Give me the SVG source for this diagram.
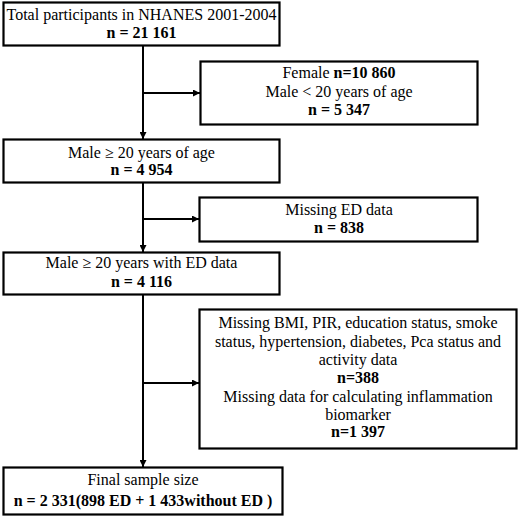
<svg xmlns="http://www.w3.org/2000/svg" width="520" height="517" viewBox="0 0 520 517">
<style>
.box{fill:#fff;stroke:#000;stroke-width:2.2}
.ln{stroke:#000;stroke-width:2;fill:none}
</style>
<defs>
<marker id="ah" viewBox="0 0 10 10" refX="10" refY="5" markerWidth="9" markerHeight="7" markerUnits="userSpaceOnUse" orient="auto">
<path d="M0,0 L10,5 L0,10 z" fill="#000"/>
</marker>
</defs>
<rect width="520" height="517" fill="#fff"/>
<g id="connectors">
<line class="ln" x1="143" y1="46" x2="143" y2="139" marker-end="url(#ah)"/>
<line class="ln" x1="143" y1="93" x2="200" y2="93" marker-end="url(#ah)"/>
<line class="ln" x1="143" y1="183" x2="143" y2="252" marker-end="url(#ah)"/>
<line class="ln" x1="143" y1="219" x2="199" y2="219" marker-end="url(#ah)"/>
<line class="ln" x1="143" y1="294" x2="143" y2="467" marker-end="url(#ah)"/>
<line class="ln" x1="143" y1="383" x2="199" y2="383" marker-end="url(#ah)"/>
</g>
<g id="n1">
<rect class="box" x="3.5" y="2.5" width="276" height="43"/>
<text font-family="Liberation Serif" font-size="16" text-anchor="middle" x="141.5" y="20">Total participants in NHANES 2001-2004</text>
<text font-family="Liberation Serif" font-size="16" text-anchor="middle" font-weight="bold" x="141.5" y="38">n = 21 161</text>
</g>
<g id="n2">
<rect class="box" x="200.5" y="61.5" width="277" height="63"/>
<text font-family="Liberation Serif" font-size="16" text-anchor="middle" x="339" y="78">Female <tspan font-weight="bold">n=10 860</tspan></text>
<text font-family="Liberation Serif" font-size="16" text-anchor="middle" x="339" y="97">Male &lt; 20 years of age</text>
<text font-family="Liberation Serif" font-size="16" text-anchor="middle" font-weight="bold" x="339" y="115">n = 5 347</text>
</g>
<g id="n3">
<rect class="box" x="3.5" y="139.5" width="276" height="43"/>
<text font-family="Liberation Serif" font-size="16" text-anchor="middle" x="141.5" y="158">Male ≥ 20 years of age</text>
<text font-family="Liberation Serif" font-size="16" text-anchor="middle" font-weight="bold" x="141.5" y="175">n = 4 954</text>
</g>
<g id="n4">
<rect class="box" x="199.5" y="197.5" width="278" height="44"/>
<text font-family="Liberation Serif" font-size="16" text-anchor="middle" x="339" y="215">Missing ED data</text>
<text font-family="Liberation Serif" font-size="16" text-anchor="middle" font-weight="bold" x="339" y="233">n = 838</text>
</g>
<g id="n5">
<rect class="box" x="3.5" y="252.5" width="276" height="42"/>
<text font-family="Liberation Serif" font-size="16" text-anchor="middle" x="141.5" y="268">Male ≥ 20 years with ED data</text>
<text font-family="Liberation Serif" font-size="16" text-anchor="middle" font-weight="bold" x="141.5" y="287">n = 4 116</text>
</g>
<g id="n6">
<rect class="box" x="199.5" y="309.5" width="317" height="139"/>
<text font-family="Liberation Serif" font-size="16" text-anchor="middle" x="358" y="328">Missing BMI, PIR, education status, smoke</text>
<text font-family="Liberation Serif" font-size="16" text-anchor="middle" x="358" y="347">status, hypertension, diabetes, Pca status and</text>
<text font-family="Liberation Serif" font-size="16" text-anchor="middle" x="358" y="365">activity data</text>
<text font-family="Liberation Serif" font-size="16" text-anchor="middle" font-weight="bold" x="358" y="383">n=388</text>
<text font-family="Liberation Serif" font-size="16" text-anchor="middle" x="358" y="402">Missing data for calculating inflammation</text>
<text font-family="Liberation Serif" font-size="16" text-anchor="middle" x="358" y="420">biomarker</text>
<text font-family="Liberation Serif" font-size="16" text-anchor="middle" font-weight="bold" x="358" y="437">n=1 397</text>
</g>
<g id="n7">
<rect class="box" x="3.5" y="467.5" width="279" height="47"/>
<text font-family="Liberation Serif" font-size="16" text-anchor="middle" x="143" y="485">Final sample size</text>
<text font-family="Liberation Serif" font-size="16" text-anchor="middle" font-weight="bold" x="143" y="506">n = 2 331(898 ED + 1 433without ED )</text>
</g>
</svg>
